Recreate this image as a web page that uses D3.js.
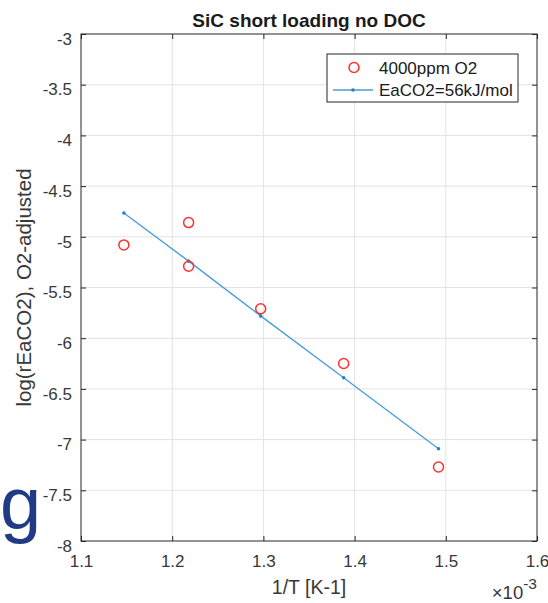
<!DOCTYPE html>
<html>
<head>
<meta charset="utf-8">
<script src="https://cdn.jsdelivr.net/npm/d3@7/dist/d3.min.js"></script>
<style>
  html, body { margin: 0; padding: 0; background: #ffffff; }
  svg { display: block; }
  text { font-family: Arial, "Liberation Sans", Helvetica, sans-serif; }
</style>
</head>
<body>
<svg id="chart" width="548" height="603"></svg>
<script>
// ---- data ----
const titleText = "SiC short loading no DOC";
const xLabelText = "1/T [K-1]";
const yLabelText = "log(rEaCO2), O2-adjusted";
const xTicks = [1.1, 1.2, 1.3, 1.4, 1.5, 1.6];
const yTicks = [-3, -3.5, -4, -4.5, -5, -5.5, -6, -6.5, -7, -7.5, -8];
const xTickLabels = ["1.1", "1.2", "1.3", "1.4", "1.5", "1.6"];
const yTickLabels = ["-3", "-3.5", "-4", "-4.5", "-5", "-5.5", "-6", "-6.5", "-7", "-7.5", "-8"];
const measName = "4000ppm O2";
const measX = [1.147, 1.218, 1.218, 1.297, 1.388, 1.492];
const measY = [-5.08, -4.86, -5.29, -5.71, -6.25, -7.27];
const fitName = "EaCO2=56kJ/mol";
const fitX = [1.147, 1.218, 1.297, 1.388, 1.492];
const fitY = [-4.765, -5.24, -5.78, -6.39, -7.09];

// ---- layout ----
const svg = d3.select("#chart");
const L = 81, R = 537, T = 34, B = 541;
const x = d3.scaleLinear().domain([1.1, 1.6]).range([L, R]);
const y = d3.scaleLinear().domain([-8, -3]).range([B, T]);
const axisColor = "#262626";
const gridColor = "#e3e3e3";

// background slide letter
svg.append("text")
  .attr("x", 0).attr("y", 529)
  .attr("font-size", 74)
  .attr("fill", "#203a86")
  .text("g");

// plot area
svg.append("rect").attr("x", L).attr("y", T).attr("width", R - L).attr("height", B - T)
  .attr("fill", "#ffffff");

// grid
const grid = svg.append("g");
grid.selectAll("line.gx").data(xTicks.slice(1, -1)).enter().append("line")
  .attr("x1", d => x(d)).attr("x2", d => x(d)).attr("y1", T).attr("y2", B)
  .attr("stroke", gridColor).attr("stroke-width", 1);
grid.selectAll("line.gy").data(yTicks.slice(1, -1)).enter().append("line")
  .attr("y1", d => y(d)).attr("y2", d => y(d)).attr("x1", L).attr("x2", R)
  .attr("stroke", gridColor).attr("stroke-width", 1);

// axes using d3 axis generators
const tickLen = 5;
const xAxisB = d3.axisBottom(x).tickValues(xTicks).tickSize(-tickLen).tickPadding(10)
  .tickFormat((d, i) => xTickLabels[i]);
const xAxisT = d3.axisTop(x).tickValues(xTicks).tickSize(-tickLen).tickFormat("");
const yAxisL = d3.axisLeft(y).tickValues(yTicks).tickSize(-tickLen).tickPadding(9)
  .tickFormat((d, i) => yTickLabels[i]);
const yAxisR = d3.axisRight(y).tickValues(yTicks).tickSize(-tickLen).tickFormat("");

function styleAxis(g) {
  g.select(".domain").remove();
  g.selectAll(".tick line").attr("stroke", axisColor);
  g.selectAll(".tick text").attr("fill", "#383838").attr("font-size", 17)
    .attr("font-family", "Arial, 'Liberation Sans', sans-serif");
}
svg.append("g").attr("transform", `translate(0,${B})`).call(xAxisB).call(styleAxis)
  .selectAll(".tick text").attr("dy", "0.95em");
svg.append("g").attr("transform", `translate(0,${T})`).call(xAxisT).call(styleAxis);
svg.append("g").attr("transform", `translate(${L},0)`).call(yAxisL).call(styleAxis)
  .selectAll(".tick text").attr("dy", "0.6em");
svg.append("g").attr("transform", `translate(${R},0)`).call(yAxisR).call(styleAxis);

// box
svg.append("rect").attr("x", L).attr("y", T).attr("width", R - L).attr("height", B - T)
  .attr("fill", "none").attr("stroke", axisColor).attr("stroke-width", 1);

// fit line
const lineColor = "#4b9ed9";
const fitData = fitX.map((v, i) => [v, fitY[i]]);
svg.append("path").datum(fitData)
  .attr("d", d3.line().x(d => x(d[0])).y(d => y(d[1])))
  .attr("fill", "none").attr("stroke", lineColor).attr("stroke-width", 1.4);
svg.selectAll("circle.fitpt").data(fitData).enter().append("circle")
  .attr("cx", d => x(d[0])).attr("cy", d => y(d[1])).attr("r", 1.8)
  .attr("fill", "#2a7fc2");

// measured points
const measData = measX.map((v, i) => [v, measY[i]]);
svg.selectAll("circle.meas").data(measData).enter().append("circle")
  .attr("cx", d => x(d[0])).attr("cy", d => y(d[1])).attr("r", 5)
  .attr("fill", "none").attr("stroke", "#ff3030").attr("stroke-width", 1.5);

// title
svg.append("text").attr("x", (L + R) / 2).attr("y", 27)
  .attr("text-anchor", "middle").attr("font-size", 19).attr("font-weight", "bold")
  .attr("fill", "#1a1a1a").text(titleText);

// x label
svg.append("text").attr("x", (L + R) / 2).attr("y", 594)
  .attr("text-anchor", "middle").attr("font-size", 19.5)
  .attr("fill", "#383838").text(xLabelText);

// exponent
const expo = svg.append("text").attr("x", R).attr("y", 599)
  .attr("text-anchor", "end").attr("fill", "#383838").attr("font-size", 18.5);
expo.append("tspan").text("\u00d710");
expo.append("tspan").attr("dy", -10).attr("font-size", 15.5).text("-3");

// y label
svg.append("text").attr("transform", `translate(31,${(T + B) / 2}) rotate(-90)`)
  .attr("text-anchor", "middle").attr("font-size", 20.5)
  .attr("fill", "#383838").text(yLabelText);

// legend
const lg = svg.append("g");
lg.append("rect").attr("x", 327).attr("y", 54).attr("width", 191).attr("height", 48)
  .attr("fill", "#ffffff").attr("stroke", axisColor).attr("stroke-width", 1);
lg.append("circle").attr("cx", 354).attr("cy", 67.5).attr("r", 5)
  .attr("fill", "none").attr("stroke", "#ff3030").attr("stroke-width", 1.5);
lg.append("text").attr("x", 379).attr("y", 74).attr("font-size", 17)
  .attr("fill", "#1a1a1a").text(measName);
lg.append("line").attr("x1", 333).attr("x2", 373).attr("y1", 90).attr("y2", 90)
  .attr("stroke", lineColor).attr("stroke-width", 1.4);
lg.append("circle").attr("cx", 353).attr("cy", 90).attr("r", 1.8).attr("fill", "#2a7fc2");
lg.append("text").attr("x", 379).attr("y", 96).attr("font-size", 17)
  .attr("fill", "#1a1a1a").text(fitName);
</script>
</body>
</html>
